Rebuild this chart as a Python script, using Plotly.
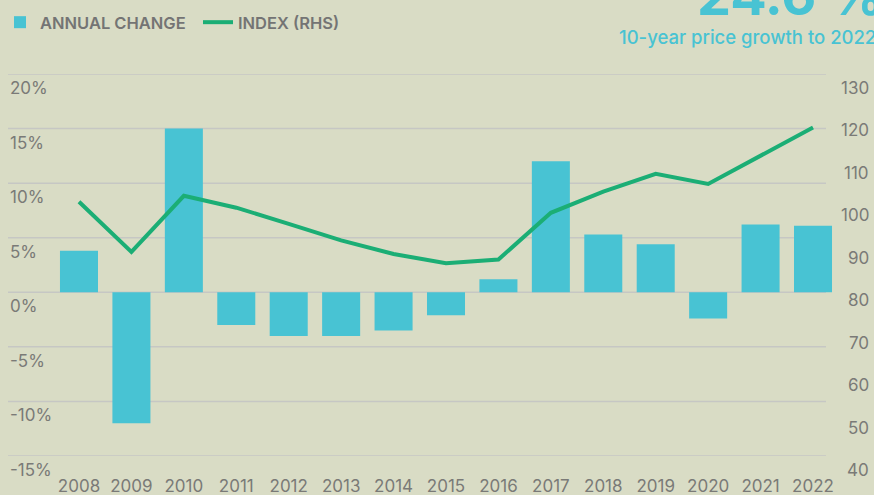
import plotly.graph_objects as go

years = [str(y) for y in range(2008, 2023)]
annual_change = [3.8, -12.0, 15.0, -3.0, -4.0, -4.0, -3.5, -2.1, 1.2, 12.0, 5.3, 4.4, -2.4, 6.2, 6.1]
index_rhs = [99.9, 88.1, 101.3, 98.5, 94.7, 90.8, 87.6, 85.4, 86.3, 97.3, 102.3, 106.5, 104.1, 110.8, 117.4]

left_ticks = [-15, -10, -5, 0, 5, 10, 15, 20]
left_ticktext = [f"{v}%" for v in left_ticks]
right_ticks = list(range(40, 131, 10))
right_ticktext = [str(v) for v in right_ticks]

title_text = "24.6 %"
subtitle_text = "10-year price growth to 2022"

BG = "#d9dcc5"
BAR = "#48c3d3"
LINE = "#1bae75"
GRID = "#c6c7c4"
TXT = "#7a7a77"
FONT = "Inter"

fig = go.Figure()
fig.add_trace(go.Bar(x=years, y=annual_change, name="ANNUAL CHANGE",
                     marker=dict(color=BAR, line=dict(width=0)), yaxis="y"))
fig.add_trace(go.Scatter(x=years, y=index_rhs, name="INDEX (RHS)", mode="lines",
                         line=dict(color=LINE, width=4), yaxis="y2"))

shapes = []
for v in left_ticks:
    shapes.append(dict(type="line", xref="paper", yref="y", x0=0, x1=(826 - 8) / 862,
                       y0=v, y1=v, line=dict(color=GRID, width=1.5), layer="below"))

annotations = []
for v, t in zip(left_ticks, left_ticktext):
    annotations.append(dict(text=t, xref="paper", yref="y", x=0, y=v, xshift=0, yshift=-14,
                            xanchor="left", yanchor="middle", showarrow=False,
                            font=dict(size=17, color=TXT, family=FONT)))
for v, t in zip(right_ticks, right_ticktext):
    annotations.append(dict(text=t, xref="paper", yref="y2", x=1, y=v, xshift=1, yshift=-14,
                            xanchor="right", yanchor="middle", showarrow=False,
                            font=dict(size=17, color=TXT, family=FONT)))
annotations.append(dict(text=title_text, xref="paper", yref="paper", x=1.0186, y=1.1148,
                        xanchor="right", yanchor="bottom", showarrow=False,
                        font=dict(size=54, color=BAR, family=FONT, weight=700)))
annotations.append(dict(text=subtitle_text, xref="paper", yref="paper", x=1.009, y=1.097,
                        xanchor="right", yanchor="middle", showarrow=False,
                        font=dict(size=18.5, color=BAR, family=FONT, weight=500)))

fig.update_layout(
    width=874, height=495,
    paper_bgcolor=BG, plot_bgcolor=BG,
    margin=dict(l=8, r=4, t=74, b=39),
    font=dict(family=FONT, color=TXT, size=16),
    bargap=0.275,
    showlegend=True,
    legend=dict(orientation="h", xref="paper", yref="container", x=-0.0139, y=0.99,
                xanchor="left", yanchor="top", bgcolor="rgba(0,0,0,0)",
                font=dict(size=16.5, color="#747474", family=FONT, weight=600),
                traceorder="normal", entrywidth=153),
    xaxis=dict(type="category", range=[-1.354, 15.087], showgrid=False, zeroline=False,
               showline=False, ticks="", tickfont=dict(size=17, color=TXT),
               ticklabelstandoff=18, automargin=False),
    yaxis=dict(range=[-15, 20], showticklabels=False, automargin=False,
               showgrid=False, zeroline=False, showline=False, ticks=""),
    yaxis2=dict(range=[40, 130], overlaying="y", side="right", showticklabels=False,
                automargin=False,
                showgrid=False, zeroline=False, showline=False, ticks=""),
    shapes=shapes,
    annotations=annotations,
)

fig.write_html("out.html", config={"displayModeBar": False},
               post_script="document.body.style.margin='0';document.body.style.overflow='hidden';")
